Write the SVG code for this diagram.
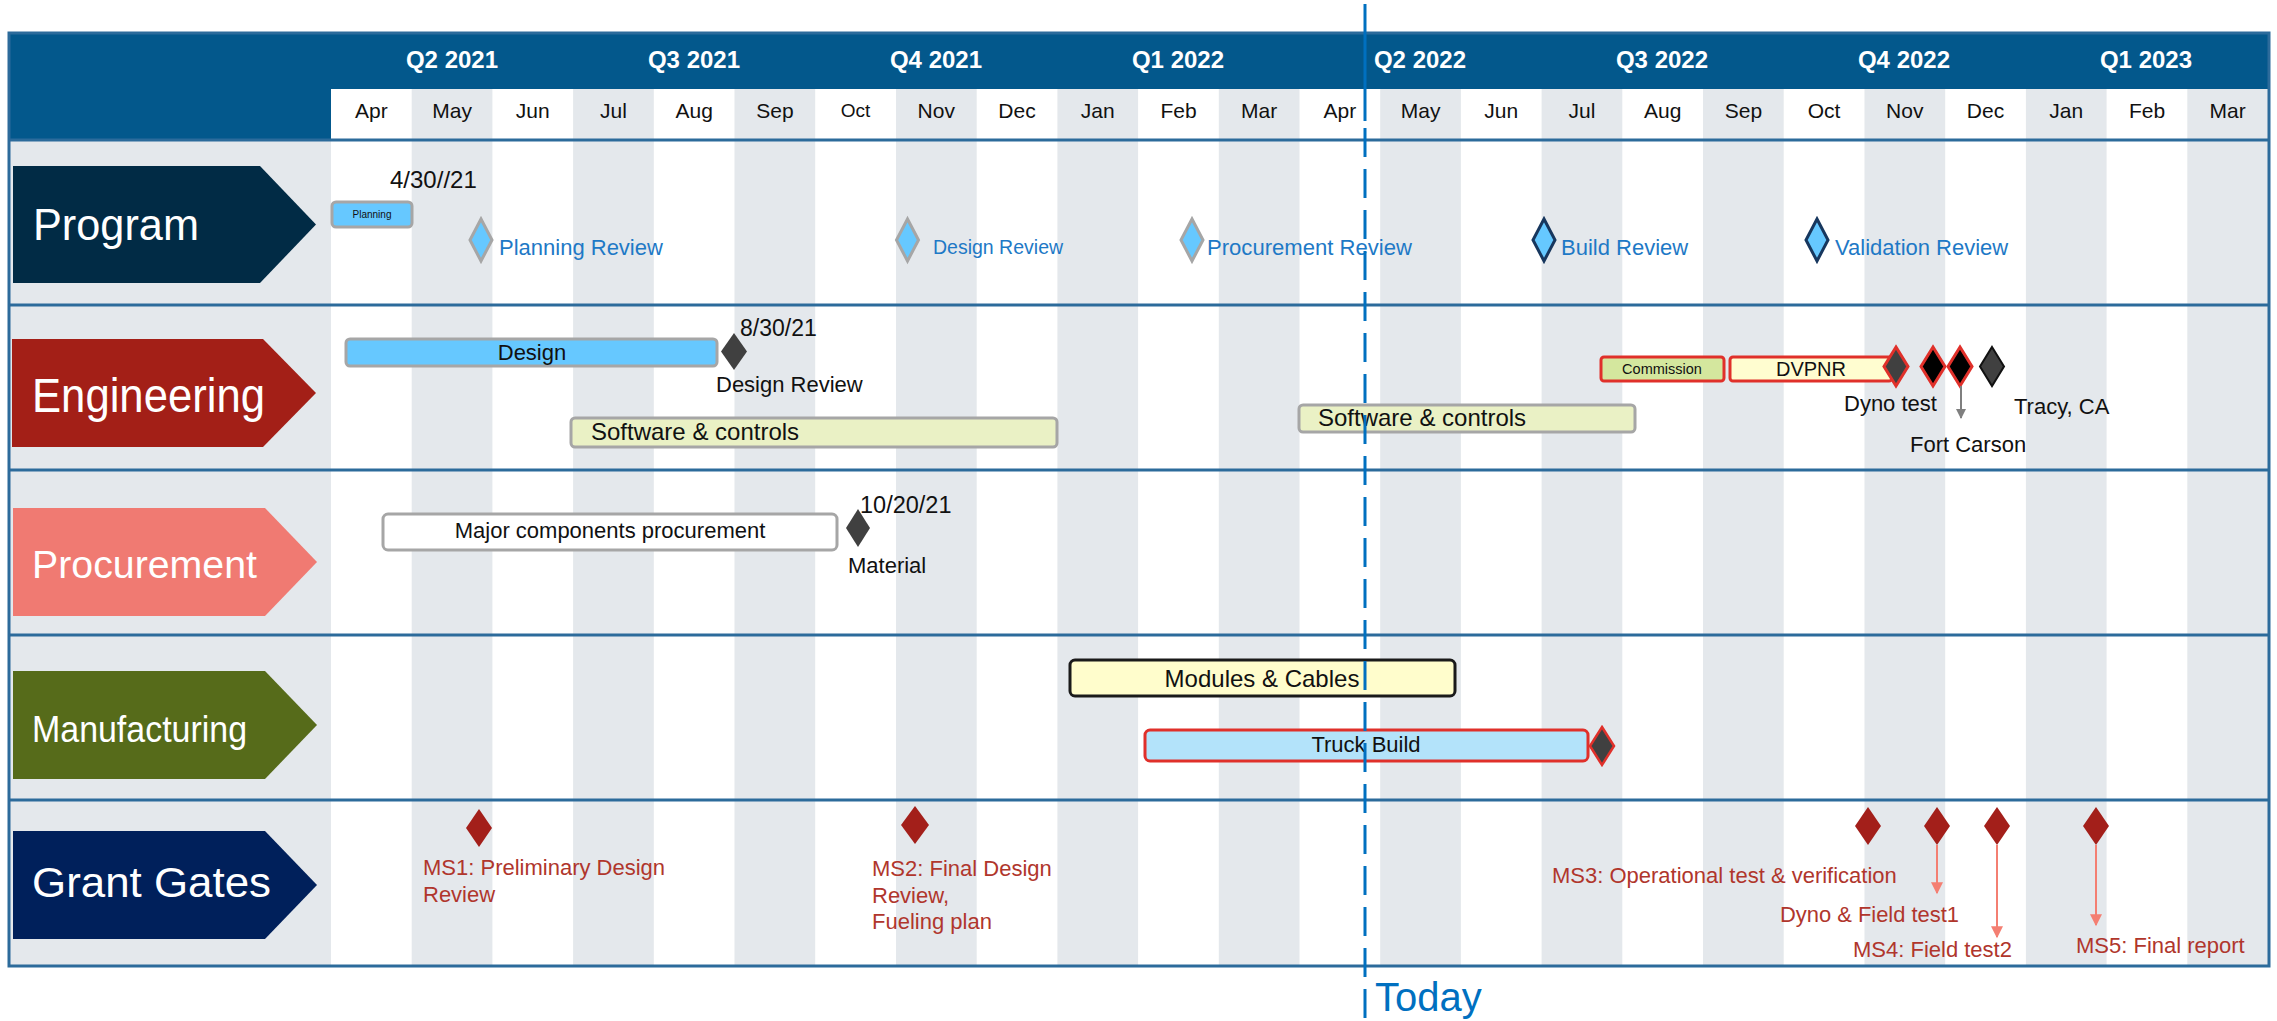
<svg xmlns="http://www.w3.org/2000/svg" width="2277" height="1021" viewBox="0 0 2277 1021">
  <defs>
    <style>
      text { font-family: "Liberation Sans", Arial, sans-serif; }
      .q { font-size: 24px; font-weight: bold; fill: #ffffff; text-anchor: middle; }
      .m { font-size: 21px; fill: #111111; text-anchor: middle; }
      .lbl { fill: #ffffff; }
      .grid { fill: #e4e8ec; }
      .sep { stroke: #2c6b9b; stroke-width: 3; fill: none; }
      .rev { font-size: 22px; fill: #1e79c6; }
      .blk { font-size: 22px; fill: #111111; }
      .gate { font-size: 22px; fill: #b0362c; }
      .bar-gray { stroke: #a6a6a6; stroke-width: 3; }
      .bar-red { stroke: #e0302a; stroke-width: 3; }
      .dia-gray { fill: #66c8ff; stroke: #a6a6a6; stroke-width: 3; }
      .dia-navy { fill: #66c8ff; stroke: #17375e; stroke-width: 3; }
      .dia-dark { fill: #404040; }
      .dia-gate { fill: #a31f1a; }
      .conn-gray { stroke: #7f7f7f; stroke-width: 2; fill: none; }
      .conn-red { stroke: #f47f72; stroke-width: 2; fill: none; }
    </style>
    <marker id="headGray" viewBox="0 0 10 10" refX="9" refY="5" markerWidth="6" markerHeight="5" markerUnits="strokeWidth" orient="auto">
      <path d="M0,0 L10,5 L0,10 z" fill="#7f7f7f"/>
    </marker>
    <marker id="headRed" viewBox="0 0 10 10" refX="9" refY="5" markerWidth="7" markerHeight="6" markerUnits="strokeWidth" orient="auto">
      <path d="M0,0 L10,5 L0,10 z" fill="#f47f72"/>
    </marker>
  </defs>

  <rect x="0" y="0" width="2277" height="1021" fill="#ffffff"/>

  <!-- timeline background: label column and alternating month stripes -->
  <g id="background">
    <rect x="9" y="140" width="322" height="826" class="grid"/>
    <rect x="411.7" y="89" width="80.7" height="877" class="grid"/>
    <rect x="573.1" y="89" width="80.7" height="877" class="grid"/>
    <rect x="734.5" y="89" width="80.7" height="877" class="grid"/>
    <rect x="896.0" y="89" width="80.7" height="877" class="grid"/>
    <rect x="1057.4" y="89" width="80.7" height="877" class="grid"/>
    <rect x="1218.8" y="89" width="80.7" height="877" class="grid"/>
    <rect x="1380.2" y="89" width="80.7" height="877" class="grid"/>
    <rect x="1541.6" y="89" width="80.7" height="877" class="grid"/>
    <rect x="1703.0" y="89" width="80.7" height="877" class="grid"/>
    <rect x="1864.5" y="89" width="80.7" height="877" class="grid"/>
    <rect x="2025.9" y="89" width="80.7" height="877" class="grid"/>
    <rect x="2187.3" y="89" width="80.7" height="877" class="grid"/>
  </g>

  <!-- header: quarters and months -->
  <g id="header">
    <path d="M9,33 H2270 V89 H331 V140 H9 Z" fill="#03588c"/>
    <rect x="9" y="89" width="322" height="51" fill="#03588c"/>
    <text class="q" x="452" y="68">Q2 2021</text>
    <text class="q" x="694" y="68">Q3 2021</text>
    <text class="q" x="936" y="68">Q4 2021</text>
    <text class="q" x="1178" y="68">Q1 2022</text>
    <text class="q" x="1420" y="68">Q2 2022</text>
    <text class="q" x="1662" y="68">Q3 2022</text>
    <text class="q" x="1904" y="68">Q4 2022</text>
    <text class="q" x="2146" y="68">Q1 2023</text>
    <text class="m" x="371.4" y="118">Apr</text>
    <text class="m" x="452.1" y="118">May</text>
    <text class="m" x="532.8" y="118">Jun</text>
    <text class="m" x="613.5" y="118">Jul</text>
    <text class="m" x="694.2" y="118">Aug</text>
    <text class="m" x="774.9" y="118">Sep</text>
    <text class="m" x="855.6" y="117" style="font-size:19px">Oct</text>
    <text class="m" x="936.3" y="118">Nov</text>
    <text class="m" x="1017.0" y="118">Dec</text>
    <text class="m" x="1097.8" y="118">Jan</text>
    <text class="m" x="1178.5" y="118">Feb</text>
    <text class="m" x="1259.2" y="118">Mar</text>
    <text class="m" x="1339.9" y="118">Apr</text>
    <text class="m" x="1420.6" y="118">May</text>
    <text class="m" x="1501.3" y="118">Jun</text>
    <text class="m" x="1582.0" y="118">Jul</text>
    <text class="m" x="1662.7" y="118">Aug</text>
    <text class="m" x="1743.4" y="118">Sep</text>
    <text class="m" x="1824.1" y="118">Oct</text>
    <text class="m" x="1904.8" y="118">Nov</text>
    <text class="m" x="1985.5" y="118">Dec</text>
    <text class="m" x="2066.2" y="118">Jan</text>
    <text class="m" x="2147.0" y="118">Feb</text>
    <text class="m" x="2227.7" y="118">Mar</text>
  </g>

  <!-- frame and row separators -->
  <g id="frame">
    <line class="sep" x1="9" y1="140" x2="2269" y2="140"/>
    <line class="sep" x1="9" y1="305" x2="2269" y2="305"/>
    <line class="sep" x1="9" y1="470" x2="2269" y2="470"/>
    <line class="sep" x1="9" y1="635" x2="2269" y2="635"/>
    <line class="sep" x1="9" y1="800" x2="2269" y2="800"/>
    <rect class="sep" x="9" y="33" width="2260" height="933"/>
  </g>

  <!-- row labels -->
  <g id="label-program">
    <polygon points="13,166 260,166 316,224.5 260,283 13,283" fill="#012b45"/>
    <text class="lbl" x="33" y="240" font-size="44" textLength="166" lengthAdjust="spacingAndGlyphs">Program</text>
  </g>
  <g id="label-engineering">
    <polygon points="12,339 263,339 316,393 263,447 12,447" fill="#a31f17"/>
    <text class="lbl" x="32" y="412" font-size="48" textLength="233" lengthAdjust="spacingAndGlyphs">Engineering</text>
  </g>
  <g id="label-procurement">
    <polygon points="13,508 265,508 317,562 265,616 13,616" fill="#f07a72"/>
    <text class="lbl" x="32" y="578" font-size="39" textLength="225" lengthAdjust="spacingAndGlyphs">Procurement</text>
  </g>
  <g id="label-manufacturing">
    <polygon points="13,671 265,671 317,725 265,779 13,779" fill="#566b1a"/>
    <text class="lbl" x="32" y="742" font-size="37" textLength="215" lengthAdjust="spacingAndGlyphs">Manufacturing</text>
  </g>
  <g id="label-grant-gates">
    <polygon points="13,831 265,831 317,885 265,939 13,939" fill="#00205b"/>
    <text class="lbl" x="32" y="897" font-size="42" textLength="239" lengthAdjust="spacingAndGlyphs">Grant Gates</text>
  </g>

  <!-- Program row -->
  <g id="planning">
    <rect x="332" y="202" width="80" height="25" rx="4" fill="#66c8ff" class="bar-gray"/>
    <text x="372" y="218" font-size="10" fill="#111111" text-anchor="middle">Planning</text>
    <text class="blk" x="390" y="188" style="font-size:24px">4/30//21</text>
  </g>
  <g id="planning-review">
    <polygon class="dia-gray" points="481,219 492,240 481,261 470,240"/>
    <text class="rev" x="499" y="255">Planning Review</text>
  </g>
  <g id="design-review">
    <polygon class="dia-gray" points="907.5,219 918.5,240 907.5,261 896.5,240"/>
    <text class="rev" x="933" y="254" style="font-size:19.5px">Design Review</text>
  </g>
  <g id="procurement-review">
    <polygon class="dia-gray" points="1192,219 1203,240 1192,261 1181,240"/>
    <text class="rev" x="1207" y="255" textLength="205" lengthAdjust="spacingAndGlyphs">Procurement Review</text>
  </g>
  <g id="build-review">
    <polygon class="dia-navy" points="1544,219 1555,240 1544,261 1533,240"/>
    <text class="rev" x="1561" y="255">Build Review</text>
  </g>
  <g id="validation-review">
    <polygon class="dia-navy" points="1817,219 1828,240 1817,261 1806,240"/>
    <text class="rev" x="1835" y="255">Validation Review</text>
  </g>

  <!-- Engineering row -->
  <g id="design">
    <rect x="346" y="339" width="371" height="27" rx="4" fill="#66c8ff" class="bar-gray"/>
    <text class="blk" x="532" y="360" text-anchor="middle">Design</text>
  </g>
  <g id="design-review-gate">
    <polygon class="dia-dark" points="734,333 747,351.5 734,370 721,351.5"/>
    <text class="blk" x="740" y="336" style="font-size:23px">8/30/21</text>
    <text class="blk" x="716" y="392">Design Review</text>
  </g>
  <g id="software-controls-1">
    <rect x="571" y="418" width="486" height="29" rx="4" fill="#eaf1c5" class="bar-gray"/>
    <text class="blk" x="591" y="440" style="font-size:24px">Software &amp; controls</text>
  </g>
  <g id="software-controls-2">
    <rect x="1299" y="405" width="336" height="27" rx="4" fill="#eaf1c5" class="bar-gray"/>
    <text class="blk" x="1318" y="426" style="font-size:24px">Software &amp; controls</text>
  </g>
  <g id="commission">
    <rect x="1601" y="357" width="123" height="24" rx="3" fill="#d4e79e" class="bar-red"/>
    <text x="1662" y="374" font-size="14.5" fill="#111111" text-anchor="middle">Commission</text>
  </g>
  <g id="dvpnr">
    <rect x="1730" y="357" width="162" height="24" rx="3" fill="#fffdd0" class="bar-red"/>
    <text class="blk" x="1811" y="376" text-anchor="middle" style="font-size:20px">DVPNR</text>
  </g>
  <g id="dyno-test">
    <polygon points="1896,347 1908,366.5 1896,386 1884,366.5" fill="#404040" class="bar-red"/>
    <text class="blk" x="1844" y="411">Dyno test</text>
  </g>
  <g id="gate-2">
    <polygon points="1933,347 1945,366.5 1933,386 1921,366.5" fill="#000000" class="bar-red"/>
  </g>
  <g id="fort-carson">
    <polygon points="1960,347 1972,366.5 1960,386 1948,366.5" fill="#000000" class="bar-red"/>
    <text class="blk" x="1910" y="452">Fort Carson</text>
  </g>
  <g id="tracy-ca">
    <polygon points="1992,347 2004,366.5 1992,386 1980,366.5" fill="#404040" stroke="#111111" stroke-width="2"/>
    <text class="blk" x="2014" y="414">Tracy, CA</text>
  </g>

  <!-- Procurement row -->
  <g id="major-components">
    <rect x="383" y="514" width="454" height="36" rx="5" fill="#ffffff" class="bar-gray"/>
    <text class="blk" x="610" y="538" text-anchor="middle">Major components procurement</text>
  </g>
  <g id="material">
    <polygon class="dia-dark" points="858,509 870,528 858,547 846,528"/>
    <text class="blk" x="860" y="513" style="font-size:23.5px">10/20/21</text>
    <text class="blk" x="848" y="573">Material</text>
  </g>

  <!-- Manufacturing row -->
  <g id="modules-cables">
    <rect x="1070" y="660" width="385" height="36" rx="5" fill="#fffdcc" stroke="#1a1a1a" stroke-width="3"/>
    <text class="blk" x="1262" y="687" text-anchor="middle" style="font-size:24px">Modules &amp; Cables</text>
  </g>
  <g id="truck-build">
    <rect x="1145" y="730" width="443" height="31" rx="5" fill="#b3e3fa" class="bar-red"/>
    <text class="blk" x="1366" y="752" text-anchor="middle">Truck Build</text>
    <polygon points="1602,727 1614,746 1602,765 1590,746" fill="#404040" stroke="#e0302a" stroke-width="2.5"/>
  </g>

  <!-- Grant Gates row -->
  <g id="ms1">
    <polygon class="dia-gate" points="479,809 492,828 479,847 466,828"/>
    <text class="gate" x="423" y="875">MS1: Preliminary Design</text>
    <text class="gate" x="423" y="902">Review</text>
  </g>
  <g id="ms2">
    <polygon class="dia-gate" points="915,806 929,825 915,844 901,825"/>
    <text class="gate" x="872" y="876">MS2: Final Design</text>
    <text class="gate" x="872" y="903">Review,</text>
    <text class="gate" x="872" y="929">Fueling plan</text>
  </g>
  <g id="ms3">
    <polygon class="dia-gate" points="1868,807 1881,826 1868,845 1855,826"/>
    <text class="gate" x="1552" y="883">MS3: Operational test &amp; verification</text>
  </g>
  <g id="dyno-field-test1">
    <polygon class="dia-gate" points="1937,807 1950,826 1937,845 1924,826"/>
    <text class="gate" x="1780" y="922" textLength="179" lengthAdjust="spacingAndGlyphs">Dyno &amp; Field test1</text>
  </g>
  <g id="ms4">
    <polygon class="dia-gate" points="1997,807 2010,826 1997,845 1984,826"/>
    <text class="gate" x="1853" y="957">MS4: Field test2</text>
  </g>
  <g id="ms5">
    <polygon class="dia-gate" points="2096,807 2109,826 2096,845 2083,826"/>
    <text class="gate" x="2076" y="953">MS5: Final report</text>
  </g>

  <!-- connectors -->
  <g id="connectors">
    <line class="conn-gray" x1="1961" y1="386" x2="1961" y2="418" marker-end="url(#headGray)"/>
    <line class="conn-red" x1="1937" y1="845" x2="1937" y2="893" marker-end="url(#headRed)"/>
    <line class="conn-red" x1="1997" y1="845" x2="1997" y2="937" marker-end="url(#headRed)"/>
    <line class="conn-red" x1="2096" y1="845" x2="2096" y2="925" marker-end="url(#headRed)"/>
  </g>

  <!-- today marker -->
  <g id="today">
    <line x1="1365" y1="4" x2="1365" y2="121" stroke="#0070c0" stroke-width="3"/>
    <line x1="1365" y1="128" x2="1365" y2="1021" stroke="#0070c0" stroke-width="3" stroke-dasharray="29 12"/>
    <text x="1375" y="1011" font-size="40" fill="#0070c0">Today</text>
  </g>
</svg>
